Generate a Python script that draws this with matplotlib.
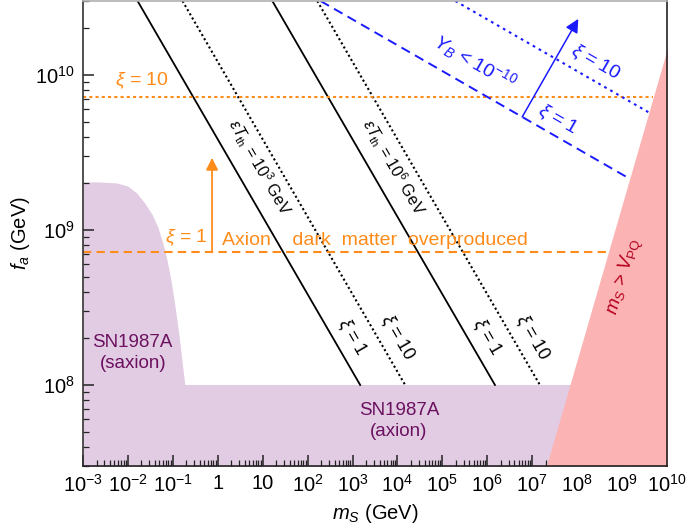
import numpy as np
import matplotlib.pyplot as plt
from matplotlib.ticker import FixedLocator, LogLocator, NullFormatter

plt.rcParams['font.family'] = ['Liberation Sans', 'DejaVu Sans']
plt.rcParams['mathtext.fontset'] = 'custom'
plt.rcParams['mathtext.rm'] = 'Liberation Sans'
plt.rcParams['mathtext.it'] = 'Liberation Sans:italic'
plt.rcParams['mathtext.bf'] = 'Liberation Sans:bold'

# ---- data ----
# SN1987A saxion bound (upper edge)
m_sax = [1e-3, 2.36e-3, 5.64e-3, 9.9e-3, 1.57e-2, 2.37e-2, 3.40e-2, 4.62e-2, 5.97e-2,
         7.33e-2, 8.99e-2, 0.110, 0.136, 0.158, 0.185]
f_sax = [2.04e9, 2.04e9, 2.01e9, 1.92e9, 1.73e9, 1.49e9, 1.27e9, 1.045e9, 8.24e8,
         6.50e8, 4.83e8, 3.33e8, 2.13e8, 1.47e8, 1.0e8]
# SN1987A axion bound
m_ax = [0.185, 1e10]
f_ax = [1e8, 1e8]
# m_S > V_PQ region (left edge)
m_pq = [2.07e7, 1e10]
f_pq = [3e7, 1.45e10]

# eps*T_th lines (xi = 1 solid, xi = 10 dotted)
m_T3_1 = [1.64e-2, 1.48e3]
m_T3_10 = [1.64e-1, 1.48e4]
m_T6_1 = [16.4, 1.48e6]
m_T6_10 = [164, 1.48e7]
f_T = [3e10, 1e8]

# axion DM overproduction
m_dm = [1e-3, 4.97e8]
f_dm1 = [7.2e8, 7.2e8]
m_dm10 = [1e-3, 4.97e9]
f_dm10 = [7.2e9, 7.2e9]

# baryon asymmetry Y_B < 1e-10
m_yb1 = [194, 1.476e9]
f_yb1 = [3e10, 2.14e9]
m_yb10 = [1.94e5, 3.95e9]
f_yb10 = [3e10, 5.73e9]

xticks = [1e-3, 1e-2, 1e-1, 1, 10, 1e2, 1e3, 1e4, 1e5, 1e6, 1e7, 1e8, 1e9, 1e10]
xlabels = ['$10^{-3}$', '$10^{-2}$', '$10^{-1}$', '1', '10', '$10^{2}$', '$10^{3}$',
           '$10^{4}$', '$10^{5}$', '$10^{6}$', '$10^{7}$', '$10^{8}$', '$10^{9}$', '$10^{10}$']
yticks = [1e8, 1e9, 1e10]
ylabels = ['$10^{8}$', '$10^{9}$', '$10^{10}$']

purple = '#e2cce3'
pink = '#fcb3b3'
orange = '#ff8c1a'
blue = '#1a1aff'

fig = plt.figure(figsize=(6.87, 5.29), dpi=100)
ax = fig.add_axes([83/687, 63/529, 584/687, 465/529])
ax.set_xscale('log')
ax.set_yscale('log')
ax.set_xlim(1e-3, 1e10)
ax.set_ylim(3e7, 3e10)

# shaded regions
ax.fill_between(m_sax, f_sax, 1e7, color=purple, lw=0, zorder=1)
ax.fill_between(m_ax, f_ax, 1e7, color=purple, lw=0, zorder=1)
ax.fill_betweenx(f_pq, m_pq, 1e11, color=pink, lw=0, zorder=2)

# black lines
ax.plot(m_T3_1, f_T, '-', color='black', lw=1.3, zorder=3)
ax.plot(m_T3_10, f_T, color='black', lw=1.5, ls=(0, (1, 1.3)), zorder=3)
ax.plot(m_T6_1, f_T, '-', color='black', lw=1.3, zorder=3)
ax.plot(m_T6_10, f_T, color='black', lw=1.5, ls=(0, (1, 1.3)), zorder=3)

# orange lines
ax.plot(m_dm, f_dm1, color=orange, lw=1.5, ls=(0, (4, 2.5)), zorder=3)
ax.plot(m_dm10, f_dm10, color=orange, lw=1.5, ls=(0, (1.5, 1.5)), zorder=3)
ax.annotate('', xy=(0.746, 2.92e9), xytext=(0.746, 7.2e8),
            arrowprops=dict(arrowstyle='-|>', color=orange, lw=1.3,
                            mutation_scale=18, shrinkA=0, shrinkB=0), zorder=4)

# blue lines
ax.plot(m_yb1, f_yb1, color=blue, lw=1.4, ls=(0, (5, 3)), zorder=3)
ax.plot(m_yb10, f_yb10, color=blue, lw=1.5, ls=(0, (1.3, 2)), zorder=3)
ax.annotate('', xy=(1.06e8, 2.3e10), xytext=(5.98e6, 5.36e9),
            arrowprops=dict(arrowstyle='-|>', color=blue, lw=1.1,
                            mutation_scale=20, shrinkA=0, shrinkB=0), zorder=4)

# texts
ax.text(0.0203, 9.15e9, r'$\xi$ = 10', color=orange, fontsize=14, ha='center', va='center')
ax.text(0.205, 8.87e8, r'$\xi$ = 1', color=orange, fontsize=14, ha='center', va='center')
ax.text(1.23, 8.6e8, 'Axion    dark  matter  overproduced', color=orange, fontsize=14,
        ha='left', va='center')

ax.text(8.2, 2.55e9, r'$\varepsilon T_{\rm th}$ = 10$^3$ GeV', fontsize=11.5, rotation=-60,
        ha='center', va='center', rotation_mode='anchor')
ax.text(7960, 2.55e9, r'$\varepsilon T_{\rm th}$ = 10$^6$ GeV', fontsize=11.5, rotation=-60,
        ha='center', va='center', rotation_mode='anchor')
for mx, lab in [(970, r'$\xi$ = 1'), (9770, r'$\xi$ = 10'),
                (9.9e5, r'$\xi$ = 1'), (9.95e6, r'$\xi$ = 10')]:
    ax.text(mx, 2.03e8, lab, fontsize=13, rotation=-60, ha='center', va='center',
            rotation_mode='anchor')

ax.text(5.35e5, 1.21e10, r'$Y_B$ < 10$^{-10}$', color=blue, fontsize=14, rotation=-30,
        ha='center', va='center', rotation_mode='anchor')
ax.text(2.52e8, 1.21e10, r'$\xi$ = 10', color=blue, fontsize=14, rotation=-30,
        ha='center', va='center', rotation_mode='anchor')
ax.text(3.78e7, 5.13e9, r'$\xi$ = 1', color=blue, fontsize=14, rotation=-30,
        ha='center', va='center', rotation_mode='anchor')

ax.text(0.0128, 1.61e8, 'SN1987A\n(saxion)', color='#6b105f', fontsize=13.5,
        ha='center', va='center', linespacing=1.35)
ax.text(1.08e4, 5.86e7, 'SN1987A\n(axion)', color='#6b105f', fontsize=13.5,
        ha='center', va='center', linespacing=1.35)
ax.text(1.12e9, 4.98e8, r'$m_S$ > $V_{\rm PQ}$', color='#b5001e', fontsize=13.5, rotation=74,
        ha='center', va='center', rotation_mode='anchor')

# axes styling
ax.xaxis.set_major_locator(FixedLocator(xticks))
ax.set_xticklabels(xlabels)
ax.yaxis.set_major_locator(FixedLocator(yticks))
ax.set_yticklabels(ylabels)
ax.xaxis.set_minor_locator(LogLocator(base=10, subs=np.arange(2, 10), numticks=50))
ax.yaxis.set_minor_locator(LogLocator(base=10, subs=np.arange(2, 10), numticks=50))
ax.xaxis.set_minor_formatter(NullFormatter())
ax.yaxis.set_minor_formatter(NullFormatter())
ax.tick_params(which='both', direction='in', top=False, right=False, labelsize=14.5,
               color='#222222')
ax.tick_params(which='major', length=8, width=1.1, pad=6)
ax.tick_params(which='minor', length=4, width=0.9)

ax.spines['top'].set_color('#b0b0b0')
ax.spines['left'].set_color('#333333')
ax.spines['bottom'].set_color('#222222')
ax.spines['right'].set_color('#222222')
for s in ax.spines.values():
    s.set_linewidth(1.2)
    s.set_zorder(5)

ax.set_xlabel(r'$m_S$ (GeV)', fontsize=14.5, labelpad=4)
ax.set_ylabel(r'$f_a$ (GeV)', fontsize=14.5, labelpad=2)

plt.savefig('out.png', dpi=100)
